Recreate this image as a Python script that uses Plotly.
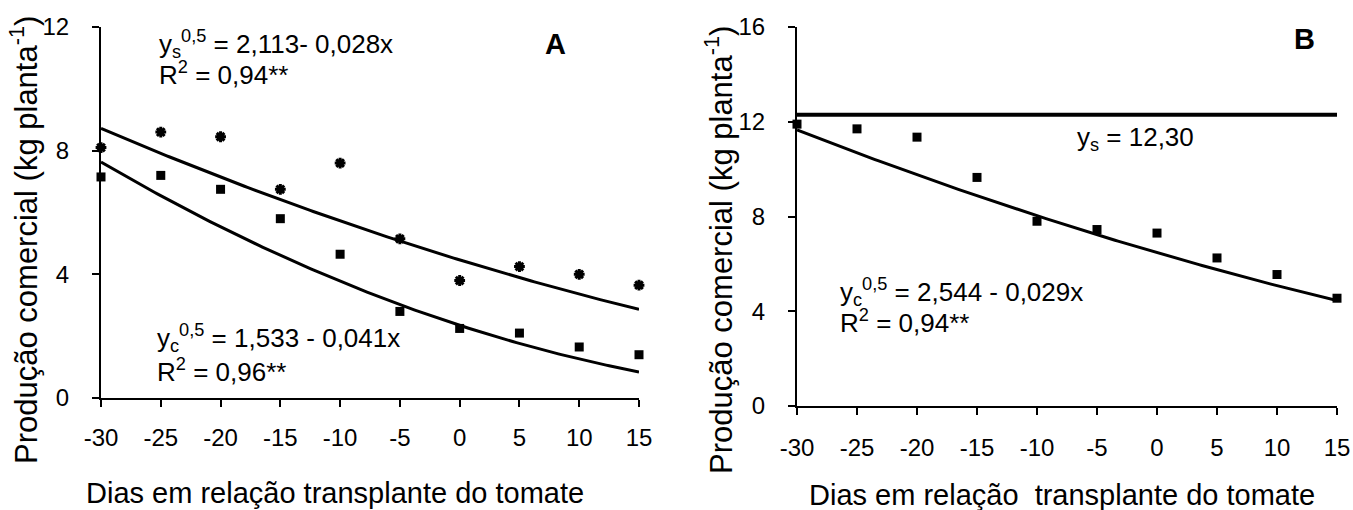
import numpy as np
import plotly.graph_objects as go

# ---- data ----
days = [-30, -25, -20, -15, -10, -5, 0, 5, 10, 15]
xtick_text = ["-30", "-25", "-20", "-15", "-10", "-5", "0", "5", "10", "15"]

# Panel A
a_ys = [8.1, 8.6, 8.45, 6.75, 7.6, 5.15, 3.8, 4.25, 4.0, 3.65]   # asterisks
a_yc = [7.15, 7.2, 6.75, 5.8, 4.65, 2.8, 2.25, 2.1, 1.65, 1.4]   # squares

# Panel B
b_yc = [11.9, 11.7, 11.35, 9.65, 7.8, 7.45, 7.3, 6.25, 5.55, 4.55]
b_ys_mean = 12.30

# regression coefficients shown on the chart: y^0.5 = a + b*x
a_ys_coef = (2.113, -0.028)
a_yc_coef = (1.533, -0.041)
b_yc_coef = (2.544, -0.029)

yticks_a = [0, 4, 8, 12]
yticks_b = [0, 4, 8, 12, 16]

FONT = "Liberation Sans, Arial, sans-serif"
W, H = 1353, 510

xfit = np.linspace(-30, 15, 181)


def fit(coef):
    return (coef[0] + coef[1] * xfit) ** 2


fig = go.Figure()

# Panel A
fig.add_trace(go.Scatter(x=xfit, y=fit(a_ys_coef), mode="lines",
                         line=dict(color="black", width=3), xaxis="x", yaxis="y",
                         showlegend=False, hoverinfo="skip"))
fig.add_trace(go.Scatter(x=xfit, y=fit(a_yc_coef), mode="lines",
                         line=dict(color="black", width=3), xaxis="x", yaxis="y",
                         showlegend=False, hoverinfo="skip"))
fig.add_trace(go.Scatter(x=days, y=a_ys, mode="markers", cliponaxis=False,
                         marker=dict(symbol="asterisk", size=9, color="black",
                                     line=dict(color="black", width=3)),
                         xaxis="x", yaxis="y", showlegend=False))
fig.add_trace(go.Scatter(x=days, y=a_yc, mode="markers", cliponaxis=False,
                         marker=dict(symbol="square", size=9, color="black"),
                         xaxis="x", yaxis="y", showlegend=False))

# Panel B
fig.add_trace(go.Scatter(x=[days[0], days[-1]], y=[b_ys_mean, b_ys_mean], mode="lines",
                         line=dict(color="black", width=4), xaxis="x2", yaxis="y2",
                         showlegend=False, hoverinfo="skip"))
fig.add_trace(go.Scatter(x=xfit, y=fit(b_yc_coef), mode="lines",
                         line=dict(color="black", width=3), xaxis="x2", yaxis="y2",
                         showlegend=False, hoverinfo="skip"))
fig.add_trace(go.Scatter(x=days, y=b_yc, mode="markers", cliponaxis=False,
                         marker=dict(symbol="square", size=9, color="black"),
                         xaxis="x2", yaxis="y2", showlegend=False))


def px_x(p):
    return p / W


def px_y(p):
    return 1 - p / H


axis_common = dict(showline=True, linecolor="black", linewidth=2, ticks="outside",
                   ticklen=7, tickwidth=2, tickcolor="black", showgrid=False,
                   zeroline=False, tickfont=dict(family=FONT, size=24, color="black"))

fig.update_layout(
    width=W, height=H, autosize=False,
    margin=dict(l=0, r=0, t=0, b=0, pad=0, autoexpand=False),
    paper_bgcolor="white", plot_bgcolor="white",
    font=dict(family=FONT, color="black"),
    xaxis=dict(domain=[px_x(101), px_x(639)], range=[-30, 15], tickvals=days,
               ticktext=xtick_text, anchor="y", ticklabelstandoff=10, **axis_common),
    yaxis=dict(domain=[px_y(398), px_y(27)], range=[0, 12], tickvals=yticks_a,
               anchor="x", ticklabelstandoff=18, **axis_common),
    xaxis2=dict(domain=[px_x(797), px_x(1337)], range=[-30, 15], tickvals=days,
                ticktext=xtick_text, anchor="y2", ticklabelstandoff=12, **axis_common),
    yaxis2=dict(domain=[px_y(406), px_y(27)], range=[0, 16], tickvals=yticks_b,
                anchor="x2", ticklabelstandoff=18, **axis_common),
)

EQ = dict(family=FONT, size=26, color="black")
ann = []


def add(text, x, y, xref, yref, font, xanchor="left", yanchor="middle", textangle=0):
    ann.append(dict(text=text, x=x, y=y, xref=xref, yref=yref, showarrow=False,
                    font=font, xanchor=xanchor, yanchor=yanchor, textangle=textangle))


# Panel A texts
add("y<sub>s</sub><sup>0,5</sup> = 2,113- 0,028x", -25.3, 11.45, "x", "y", EQ)
add("R<sup>2</sup> = 0,94**", -25.3, 10.5, "x", "y", EQ)
add("y<sub>c</sub><sup>0,5</sup> = 1,533 - 0,041x", -25.5, 1.95, "x", "y", EQ)
add("R<sup>2</sup> = 0,96**", -25.5, 0.9, "x", "y", EQ)
add("<b>A</b>", 8.05, 11.45, "x", "y", dict(family=FONT, size=29, color="black"), xanchor="center")

# Panel B texts
add("y<sub>s</sub> = 12,30", -6.8, 11.3, "x2", "y2", EQ)
add("y<sub>c</sub><sup>0,5</sup> = 2,544 - 0,029x", -26.6, 4.8, "x2", "y2", EQ)
add("R<sup>2</sup> = 0,94**", -26.6, 3.55, "x2", "y2", EQ)
add("<b>B</b>", 12.3, 15.5, "x2", "y2", dict(family=FONT, size=29, color="black"), xanchor="center")

# Axis titles
TT = dict(family=FONT, size=31, color="black")
XT = dict(family=FONT, size=29, color="black")
ytitle = "Produção comercial (kg planta<sup>-1</sup>)"
add(ytitle, px_x(24), px_y(240), "paper", "paper", TT, xanchor="center", textangle=-90)
add(ytitle, px_x(719), px_y(250), "paper", "paper", TT, xanchor="center", textangle=-90)
add("Dias em relação transplante do tomate", px_x(335), px_y(493), "paper", "paper", XT,
    xanchor="center")
add("Dias em relação\u00a0 transplante do tomate", px_x(1062), px_y(495), "paper", "paper", XT,
    xanchor="center")

fig.update_layout(annotations=ann)

# remove the default page margin so the 1353x510 figure fills the window exactly
fig.write_html("out.html",
               config={"displayModeBar": False},
               post_script="document.body.style.margin='0';document.body.style.overflow='hidden';")
